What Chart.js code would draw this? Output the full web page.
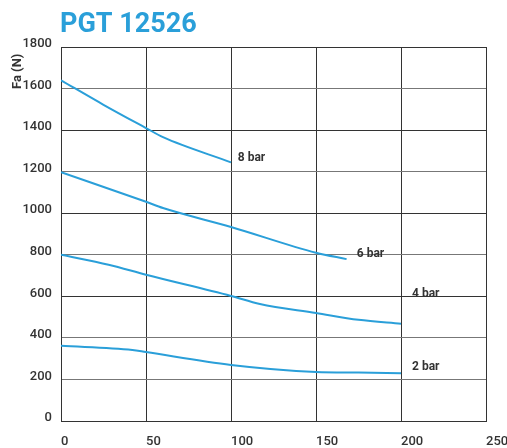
<!DOCTYPE html>
<html>
<head>
<meta charset="utf-8">
<script src="https://cdn.jsdelivr.net/npm/chart.js@4.4.1/dist/chart.umd.min.js"></script>
<style>
  html, body { margin: 0; padding: 0; background: #fff; }
  #wrap { width: 507px; height: 448px; position: relative; }
</style>
</head>
<body>
<div id="wrap"><canvas id="grafico"></canvas></div>
<script>
// curvas de fuerza axial por presión (x = carrera, y = Fa en N)
const bar8 = [[0, 1640], [25, 1522], [50, 1410], [60, 1366], [100, 1245]];
const bar6 = [[0, 1198], [50, 1055], [60, 1025], [100, 934], [150, 810], [168, 779]];
const bar4 = [[0, 800], [28, 752], [50, 704], [100, 602], [117, 563], [150, 520], [175, 487], [200, 468]];
const bar2 = [[0, 362], [42, 342], [50, 332], [100, 270], [150, 236], [175, 233], [200, 230]];

const series = [bar8, bar6, bar4, bar2];
// etiquetas de cada curva y dónde van (en unidades de datos)
const labels = ['8 bar', '6 bar', '4 bar', '2 bar'];
const labelPos = [[104, 1266], [174, 804], [206.5, 610], [206.5, 262]];

const xTicks = [0, 50, 100, 150, 200, 250];
const yTicks = [0, 200, 400, 600, 800, 1000, 1200, 1400, 1600, 1800];

const azul = '#2a9fd9';
const texto = '#333';

const etiquetas = {
  id: 'etiquetas',
  afterDraw(chart) {
    const { ctx, scales: { x, y } } = chart;
    ctx.save();
    // título
    ctx.fillStyle = azul;
    ctx.font = 'bold 27px Roboto';
    ctx.textBaseline = 'alphabetic';
    ctx.textAlign = 'left';
    ctx.fillText('PGT 12526', 60, 32);
    // título eje y
    ctx.fillStyle = texto;
    ctx.font = 'bold 13px Roboto';
    ctx.translate(21, 89);
    ctx.rotate(-Math.PI / 2);
    ctx.fillText('Fa (N)', 0, 0);
    ctx.restore();

    ctx.save();
    ctx.fillStyle = texto;
    ctx.font = 'bold 12px Roboto';
    ctx.textBaseline = 'middle';
    labels.forEach((t, i) => {
      ctx.fillText(t, x.getPixelForValue(labelPos[i][0]), y.getPixelForValue(labelPos[i][1]));
    });
    ctx.restore();
  }
};

new Chart(document.getElementById('grafico'), {
  type: 'line',
  data: {
    datasets: series.map((s, i) => ({
      label: labels[i],
      data: s.map(p => ({ x: p[0], y: p[1] })),
      borderColor: azul,
      borderWidth: 2,
      pointRadius: 0,
      fill: false,
      cubicInterpolationMode: 'monotone'
    }))
  },
  options: {
    responsive: true,
    maintainAspectRatio: false,
    animation: false,
    layout: { padding: { top: 47, right: 0, left: 0, bottom: 0 } },
    plugins: { legend: { display: false }, tooltip: { enabled: false } },
    scales: {
      x: {
        type: 'linear',
        min: 0,
        max: 250,
        afterBuildTicks: s => { s.ticks = xTicks.map(v => ({ value: v })); },
        // la última etiqueta (250) sobresale a la derecha
        afterFit: s => { s.height = 27; s.paddingRight = 21; s.paddingLeft = 0; },
        grid: { color: texto, lineWidth: 1, drawTicks: false },
        border: { color: texto, width: 1 },
        ticks: {
          align: 'start',
          padding: 13,
          color: texto,
          font: { family: 'Roboto', size: 13, weight: 500 },
          callback: v => String(v)
        }
      },
      y: {
        min: 0,
        max: 1800,
        afterBuildTicks: s => { s.ticks = yTicks.map(v => ({ value: v })); },
        afterFit: s => { s.width = 61; },
        grid: {
          color: c => (c.tick && [1600, 1200, 800, 400, 200].includes(c.tick.value)) ? '#777' : texto,
          lineWidth: 1,
          drawTicks: false
        },
        border: { color: texto, width: 1 },
        ticks: {
          padding: 9,
          labelOffset: -3,
          color: texto,
          font: { family: 'Roboto', size: 13, weight: 500 },
          callback: v => String(v)
        }
      }
    }
  },
  plugins: [etiquetas]
});
</script>
</body>
</html>
